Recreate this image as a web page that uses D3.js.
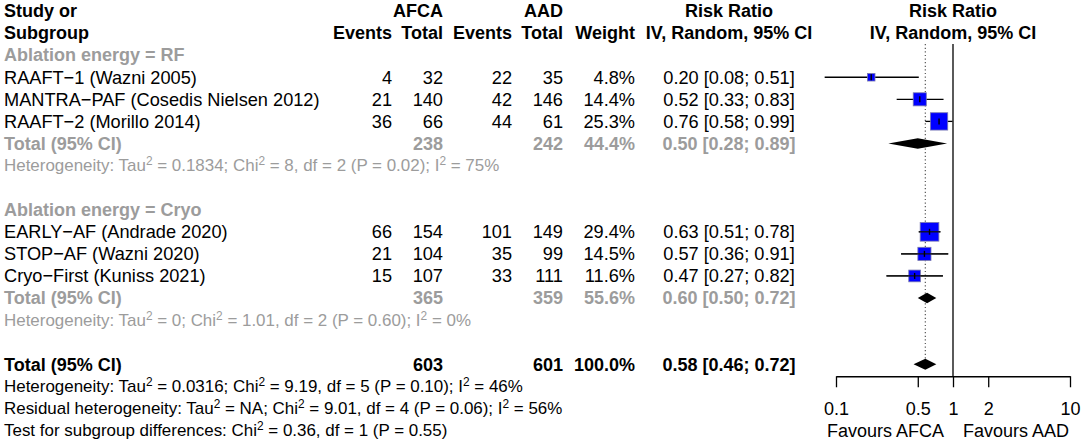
<!DOCTYPE html>
<html lang="en">
<head>
<meta charset="UTF-8">
<script src="https://cdn.jsdelivr.net/npm/d3@7"></script>
<title>Forest plot - AFCA vs AAD</title>
<style>
	body {
		margin: 0;
		background: #fff;
		overflow: hidden;
	}
	text {
		font-family: "Liberation Sans", Arial, sans-serif;
		font-size: 18px;
		fill: #000;
	}
	text.reg {
		font-size: 18.2px;
	}
	text.bold {
		font-weight: bold;
	}
	text.grey {
		fill: #9c9c9c;
	}
	text.het {
		font-size: 16.95px;
	}
</style>
</head>
<body>
<svg id="chart" width="1084" height="445"></svg>
<script>
	// study level data
	const studyLabels = ["RAAFT\u22121 (Wazni 2005)", "MANTRA\u2212PAF (Cosedis Nielsen 2012)", "RAAFT\u22122 (Morillo 2014)",
		"EARLY\u2212AF (Andrade 2020)", "STOP\u2212AF (Wazni 2020)", "Cryo\u2212First (Kuniss 2021)"];
	const studyGroup = [0, 0, 0, 1, 1, 1];
	const afcaEvents = [4, 21, 36, 66, 21, 15];
	const afcaTotal = [32, 140, 66, 154, 104, 107];
	const aadEvents = [22, 42, 44, 101, 35, 33];
	const aadTotal = [35, 146, 61, 149, 99, 111];
	const weights = [4.8, 14.4, 25.3, 29.4, 14.5, 11.6];
	const rr = [0.20, 0.52, 0.76, 0.63, 0.57, 0.47];
	const ciLow = [0.08, 0.33, 0.58, 0.51, 0.36, 0.27];
	const ciHigh = [0.51, 0.83, 0.99, 0.78, 0.91, 0.82];

	// subgroups
	const groupLabels = ["Ablation energy = RF", "Ablation energy = Cryo"];
	const groupAfcaTotal = [238, 365];
	const groupAadTotal = [242, 359];
	const groupWeight = [44.4, 55.6];
	const groupRR = [0.50, 0.60];
	const groupLow = [0.28, 0.50];
	const groupHigh = [0.89, 0.72];
	const groupHet = ["Heterogeneity: Tau^2 = 0.1834; Chi^2 = 8, df = 2 (P = 0.02); I^2 = 75%",
		"Heterogeneity: Tau^2 = 0; Chi^2 = 1.01, df = 2 (P = 0.60); I^2 = 0%"];

	// overall
	const overallAfcaTotal = 603;
	const overallAadTotal = 601;
	const overallWeight = 100.0;
	const overallRR = 0.58, overallLow = 0.46, overallHigh = 0.72;
	const footLines = ["Heterogeneity: Tau^2 = 0.0316; Chi^2 = 9.19, df = 5 (P = 0.10); I^2 = 46%",
		"Residual heterogeneity: Tau^2 = NA; Chi^2 = 9.01, df = 4 (P = 0.06); I^2 = 56%",
		"Test for subgroup differences: Chi^2 = 0.36, df = 1 (P = 0.55)"];

	const tickValues = [0.1, 0.5, 1, 2, 10];
	const labelLeft = "Favours AFCA", labelRight = "Favours AAD";

	const svg = d3.select('#chart');
	const f2 = d3.format('.2f');
	const f1 = d3.format('.1f');
	const ciText = (m, l, h) => `${f2(m)} [${f2(l)}; ${f2(h)}]`;

	// rows of the table
	const row = d3.scaleLinear().domain([0, 19]).range([11, 430.5]);
	const x = d3.scaleLog().domain([0.1, 10]).range([836, 1070]);
	const sq = d3.scaleSqrt().domain([0, d3.max(weights)]).range([0, 18.7]);

	// column anchors
	const col = { study: 4, afcaEv: 392, afcaTot: 443, aadEv: 512, aadTot: 563, weight: 635, rr: 729, plot: x(1) };

	function put(xp, r, str, cls, anchor) {
		const small = cls && cls.indexOf('het') >= 0;
		const t = svg.append('text')
			.attr('x', xp)
			.attr('y', row(r))
			.attr('dy', '0.35em')
			.attr('text-anchor', anchor || 'start')
			.attr('class', cls || null);
		// superscript 2 marked as ^2
		const parts = String(str).split('^2');
		const lift = small ? 6.5 : 7;
		parts.forEach((p, i) => {
			t.append('tspan').attr('dy', i > 0 ? lift : null).text(p);
			if (i < parts.length - 1) {
				t.append('tspan').attr('dy', -lift).style('font-size', small ? '11.9px' : '12.5px').text('2');
			}
		});
		return t;
	}

	// header
	put(col.study, 0, 'Study or', 'bold');
	put(col.study, 1, 'Subgroup', 'bold');
	put(col.afcaTot, 0, 'AFCA', 'bold', 'end');
	put(col.aadTot, 0, 'AAD', 'bold', 'end');
	put(col.afcaEv, 1, 'Events', 'bold', 'end');
	put(col.afcaTot, 1, 'Total', 'bold', 'end');
	put(col.aadEv, 1, 'Events', 'bold', 'end');
	put(col.aadTot, 1, 'Total', 'bold', 'end');
	put(col.weight, 1, 'Weight', 'bold', 'end');
	put(col.rr, 0, 'Risk Ratio', 'bold', 'middle');
	put(col.rr, 1, 'IV, Random, 95% CI', 'bold', 'middle');
	put(col.plot, 0, 'Risk Ratio', 'bold', 'middle');
	put(col.plot, 1, 'IV, Random, 95% CI', 'bold', 'middle');

	// row index for each block
	const groupStart = [2, 9];
	const studyRow = studyLabels.map((d, i) => groupStart[studyGroup[i]] + 1 + studyGroup.slice(0, i).filter(g => g === studyGroup[i]).length);
	const groupTotalRow = groupStart.map(s => s + 4);
	const overallRow = 16;

	// reference lines
	const lineTop = row(1.5);
	const axisY = row(overallRow) + 12;
	svg.append('line')
		.attr('x1', x(overallRR)).attr('x2', x(overallRR))
		.attr('y1', lineTop).attr('y2', row(overallRow) - 5.5)
		.attr('stroke', '#555').attr('stroke-width', 1.2)
		.attr('stroke-dasharray', '1.2,2.4');
	svg.append('line')
		.attr('x1', x(1)).attr('x2', x(1))
		.attr('y1', lineTop).attr('y2', axisY)
		.attr('stroke', '#000').attr('stroke-width', 1.3);

	// subgroup blocks
	groupLabels.forEach((g, gi) => {
		put(col.study, groupStart[gi], g, 'bold grey');
		const tr = groupTotalRow[gi];
		put(col.study, tr, 'Total (95% CI)', 'bold grey');
		put(col.afcaTot, tr, groupAfcaTotal[gi], 'bold grey', 'end');
		put(col.aadTot, tr, groupAadTotal[gi], 'bold grey', 'end');
		put(col.weight, tr, f1(groupWeight[gi]) + '%', 'bold grey', 'end');
		put(col.rr, tr, ciText(groupRR[gi], groupLow[gi], groupHigh[gi]), 'bold grey', 'middle');
		put(col.study, tr + 1, groupHet[gi], 'grey het');
	});

	// studies
	studyLabels.forEach((s, i) => {
		const r = studyRow[i];
		put(col.study, r, s, 'reg');
		put(col.afcaEv, r, afcaEvents[i], 'reg', 'end');
		put(col.afcaTot, r, afcaTotal[i], 'reg', 'end');
		put(col.aadEv, r, aadEvents[i], 'reg', 'end');
		put(col.aadTot, r, aadTotal[i], 'reg', 'end');
		put(col.weight, r, f1(weights[i]) + '%', 'reg', 'end');
		put(col.rr, r, ciText(rr[i], ciLow[i], ciHigh[i]), 'reg', 'middle');
	});

	// CI lines + squares
	const marks = svg.append('g');
	const idx = d3.range(studyLabels.length);
	marks.selectAll('line.ci')
		.data(idx).enter().append('line')
		.attr('class', 'ci')
		.attr('x1', i => x(ciLow[i])).attr('x2', i => x(ciHigh[i]))
		.attr('y1', i => row(studyRow[i])).attr('y2', i => row(studyRow[i]))
		.attr('stroke', '#000').attr('stroke-width', 1.3);
	marks.selectAll('rect.sq')
		.data(idx).enter().append('rect')
		.attr('class', 'sq')
		.attr('x', i => x(rr[i]) - sq(weights[i]) / 2)
		.attr('y', i => row(studyRow[i]) - sq(weights[i]) / 2)
		.attr('width', i => sq(weights[i]))
		.attr('height', i => sq(weights[i]))
		.attr('fill', '#0000ff')
		.attr('stroke', '#7a7ab0').attr('stroke-width', 0.8);
	// line visible inside the squares of the Cryo block
	marks.selectAll('line.inner')
		.data(idx.filter(i => studyGroup[i] === 1)).enter().append('line')
		.attr('x1', i => x(ciLow[i])).attr('x2', i => x(ciHigh[i]))
		.attr('y1', i => row(studyRow[i])).attr('y2', i => row(studyRow[i]))
		.attr('stroke', '#111').attr('stroke-width', 1.3);
	marks.selectAll('line.tick')
		.data(idx).enter().append('line')
		.attr('x1', i => x(rr[i])).attr('x2', i => x(rr[i]))
		.attr('y1', i => row(studyRow[i]) - 3).attr('y2', i => row(studyRow[i]) + 3)
		.attr('stroke', '#000').attr('stroke-width', 1.4);

	// diamonds
	function diamond(m, l, h, yc, hh) {
		svg.append('path')
			.attr('d', `M${x(l)},${yc} L${x(m)},${yc - hh} L${x(h)},${yc} L${x(m)},${yc + hh} Z`)
			.attr('fill', '#000');
	}
	groupLabels.forEach((g, gi) => diamond(groupRR[gi], groupLow[gi], groupHigh[gi], row(groupTotalRow[gi]), 5.2));
	diamond(overallRR, overallLow, overallHigh, row(overallRow), 5.5);

	// overall row
	put(col.study, overallRow, 'Total (95% CI)', 'bold');
	put(col.afcaTot, overallRow, overallAfcaTotal, 'bold', 'end');
	put(col.aadTot, overallRow, overallAadTotal, 'bold', 'end');
	put(col.weight, overallRow, f1(overallWeight) + '%', 'bold', 'end');
	put(col.rr, overallRow, ciText(overallRR, overallLow, overallHigh), 'bold', 'middle');
	footLines.forEach((l, i) => put(col.study, overallRow + 1 + i, l, 'het'));

	// axis
	const axis = d3.axisBottom(x)
		.tickValues(tickValues)
		.tickFormat(d => String(d))
		.tickSizeInner(11)
		.tickSizeOuter(0)
		.tickPadding(15);
	const ax = svg.append('g')
		.attr('transform', `translate(0,${axisY})`)
		.call(axis);
	ax.select('.domain').attr('stroke', '#000').attr('stroke-width', 1.3);
	ax.selectAll('.tick line').attr('stroke', '#000').attr('stroke-width', 1.3);
	ax.selectAll('.tick text')
		.attr('fill', '#000')
		.style('font-family', '"Liberation Sans", Arial, sans-serif')
		.style('font-size', '18px');

	svg.append('text')
		.attr('x', x(1) - 9).attr('y', axisY + 61)
		.attr('text-anchor', 'end')
		.text(labelLeft);
	svg.append('text')
		.attr('x', x(1) + 10).attr('y', axisY + 61)
		.attr('text-anchor', 'start')
		.text(labelRight);
</script>
</body>
</html>
